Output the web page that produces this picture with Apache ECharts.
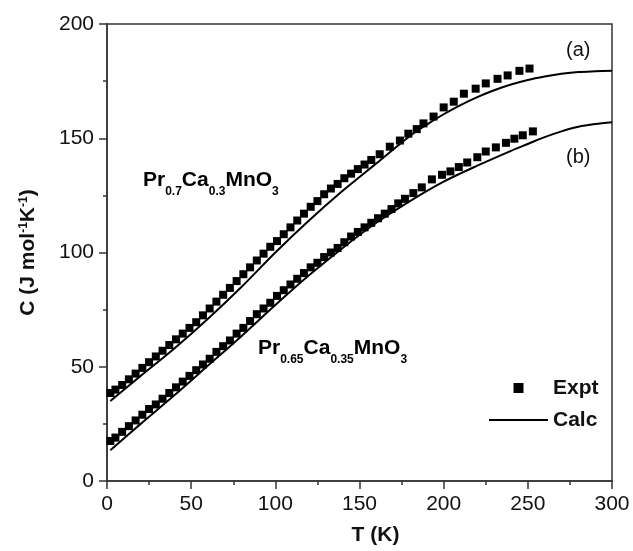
<!DOCTYPE html>
<html>
<head>
<meta charset="utf-8">
<title>Specific heat</title>
<script src="https://cdn.jsdelivr.net/npm/echarts@6/dist/echarts.min.js"></script>
<style>
  html, body { margin: 0; padding: 0; background: #fff; }
  #chart { width: 633px; height: 551px; }
</style>
</head>
<body>
<div id="chart"></div>
<script>
// Pr0.7Ca0.3MnO3 (a) - measured
const exptTempA = [2, 5, 9, 13, 17, 21, 25, 29, 33, 37, 41, 45, 49, 53, 57, 61, 65, 69, 73, 77,
  81, 85, 89, 93, 97, 101, 105, 109, 113, 117, 121, 125, 129, 133, 137, 141, 145, 149, 153, 157,
  162, 168, 174, 179, 184, 188, 194, 200, 206, 212, 219, 225, 232, 238, 245, 251]
const exptHeatA = [38.5, 40, 42, 44.5, 47, 49.5, 52, 54.5, 57, 59.5, 62, 64.5, 67, 69.5, 72.5, 75.5, 78.5, 81.5, 84.5, 87.5,
  90.5, 93.5, 96.5, 99.5, 102.5, 105, 108, 111, 114, 117, 120, 122.5, 125.5, 128, 130, 132.5, 134.5, 136.5, 138.5, 140.5,
  143, 146.3, 149, 152, 154, 156.5, 159.5, 163.5, 166, 169.5, 171.7, 174, 176, 177.5, 179.5, 180.5]

// Pr0.65Ca0.35MnO3 (b) - measured
const exptTempB = [2, 5, 9, 13, 17, 21, 25, 29, 33, 37, 41, 45, 49, 53, 57, 61, 65, 69, 73, 77,
  81, 85, 89, 93, 97, 101, 105, 109, 113, 117, 121, 125, 129, 133, 137, 141, 145, 149, 153, 157,
  161, 165, 169, 173, 177, 182, 187, 193, 199, 204, 209, 214, 220, 225, 231, 237, 242, 247, 253]
const exptHeatB = [17.5, 19, 21.5, 24, 26.5, 29, 31.5, 33.5, 36, 38.5, 41, 43.5, 46, 48.5, 51, 53.5, 56.5, 59, 61.5, 64.5,
  67, 70, 73, 75.5, 78, 81, 83.5, 86, 88.5, 91, 93.5, 95.5, 98, 100, 102, 104.5, 107, 109, 111, 113,
  115, 117, 119, 121.5, 123.5, 126, 128.5, 132, 134, 135.5, 137.4, 139.4, 141.7, 144.2, 146, 148, 149.8, 151.3, 153]

// calculated curves
const calcTempA = [2, 20, 40, 60, 80, 100, 120, 140, 160, 180, 190, 200, 210, 220, 230, 240, 250, 260, 270, 280, 290, 300]
const calcHeatA = [35, 46, 58, 71, 85, 100, 114, 127, 139, 151, 156, 160.5, 164.5, 168, 171, 173.5, 175.5, 177, 178.2, 179, 179.3, 179.5]
const calcTempB = [2, 20, 40, 60, 80, 100, 120, 140, 160, 180, 200, 220, 240, 250, 260, 270, 280, 290, 300]
const calcHeatB = [13.5, 25, 37.5, 50.5, 63.5, 77, 90, 102, 113, 122.5, 131, 138, 144.5, 147.5, 150.5, 153, 155, 156.2, 157]

// axis ticks
const xTicks = [0, 50, 100, 150, 200, 250, 300]
const yTicks = [0, 50, 100, 150, 200]

const FONT = 'Liberation Sans, Arial, sans-serif'
const INK = '#111'

const zip = (xs, ys) => xs.map((x, i) => [x, ys[i]])

// 化学式的上下标
const formulaRich = {
    b: { fontFamily: FONT, fontWeight: 'bold', fontSize: 21, lineHeight: 21, color: INK, verticalAlign: 'top' },
    s: { fontFamily: FONT, fontWeight: 'bold', fontSize: 12, lineHeight: 12, color: INK, verticalAlign: 'top', padding: [16, 0, 0, 0] }
}

const buildOption = () => {
    const exptSeries = (temps, heats) => ({
        name: 'Expt',
        type: 'scatter',
        symbol: 'rect',
        symbolSize: 8,
        itemStyle: { color: '#000', opacity: 1 },
        data: zip(temps, heats),
        z: 3
    })
    const calcSeries = (temps, heats) => ({
        name: 'Calc',
        type: 'line',
        smooth: 0.3,
        symbol: 'none',
        lineStyle: { color: '#000', width: 2 },
        itemStyle: { color: '#000' },
        data: zip(temps, heats),
        z: 2
    })

    return {
        backgroundColor: '#fff',
        animation: false,
        grid: {
            left: 107, right: 21, top: 24, bottom: 70,
            show: true, borderColor: '#333', borderWidth: 1.5
        },
        xAxis: {
            type: 'value',
            min: xTicks[0],
            max: xTicks[xTicks.length - 1],
            interval: 50,
            name: 'T (K)',
            nameLocation: 'middle',
            nameGap: 44,
            nameTextStyle: { fontFamily: FONT, fontWeight: 'bold', fontSize: 21, color: INK, padding: [0, 0, 0, 32] },
            axisLine: { lineStyle: { color: '#333', width: 1.5 } },
            axisTick: { show: true, length: 8, inside: false, lineStyle: { color: '#333', width: 1.5 } },
            minorTick: { show: true, splitNumber: 2, length: 4, lineStyle: { color: '#333', width: 1.5 } },
            splitLine: { show: false },
            axisLabel: { fontFamily: FONT, fontSize: 21, color: INK, margin: 13 }
        },
        yAxis: {
            type: 'value',
            min: yTicks[0],
            max: yTicks[yTicks.length - 1],
            interval: 50,
            name: '{m|C (J mol}{p|-1}{m|K}{p|-1}{m|)}',
            nameLocation: 'middle',
            nameGap: 68,
            nameTextStyle: {
                rich: {
                    m: { fontFamily: FONT, fontWeight: 'bold', fontSize: 21, lineHeight: 21, color: INK, verticalAlign: 'top' },
                    p: { fontFamily: FONT, fontWeight: 'bold', fontSize: 12, lineHeight: 12, color: INK, verticalAlign: 'top' }
                }
            },
            axisLine: { lineStyle: { color: '#333', width: 1.5 } },
            axisTick: { show: true, length: 8, inside: false, lineStyle: { color: '#333', width: 1.5 } },
            minorTick: { show: true, splitNumber: 2, length: 4, lineStyle: { color: '#333', width: 1.5 } },
            splitLine: { show: false },
            axisLabel: { fontFamily: FONT, fontSize: 21, color: INK, margin: 13 }
        },
        legend: {
            data: [
                { name: 'Expt', icon: 'path://M0 0H10V10H0Z', itemStyle: { color: '#000' } },
                { name: 'Calc', icon: 'path://M0 0H59V2H0Z', itemStyle: { color: '#000' } }
            ],
            orient: 'vertical',
            left: 489,
            top: 376,
            padding: 0,
            itemWidth: 59,
            itemHeight: 10,
            itemGap: 8,
            textStyle: { fontFamily: FONT, fontWeight: 'bold', fontSize: 21, color: INK, lineHeight: 24 }
        },
        graphic: [
            {
                type: 'text', left: 143, top: 170,
                style: { text: '{b|Pr}{s|0.7}{b|Ca}{s|0.3}{b|MnO}{s|3}', rich: formulaRich }
            },
            {
                type: 'text', left: 258, top: 338,
                style: { text: '{b|Pr}{s|0.65}{b|Ca}{s|0.35}{b|MnO}{s|3}', rich: formulaRich }
            },
            {
                type: 'text', left: 566, top: 40,
                style: { text: '(a)', fontFamily: FONT, fontSize: 20, fill: INK }
            },
            {
                type: 'text', left: 566, top: 147,
                style: { text: '(b)', fontFamily: FONT, fontSize: 20, fill: INK }
            }
        ],
        series: [
            exptSeries(exptTempA, exptHeatA),
            exptSeries(exptTempB, exptHeatB),
            calcSeries(calcTempA, calcHeatA),
            calcSeries(calcTempB, calcHeatB)
        ]
    }
}

const chart = echarts.init(document.getElementById('chart'))
chart.setOption(buildOption())
window.addEventListener('resize', () => chart.resize())
</script>
</body>
</html>
